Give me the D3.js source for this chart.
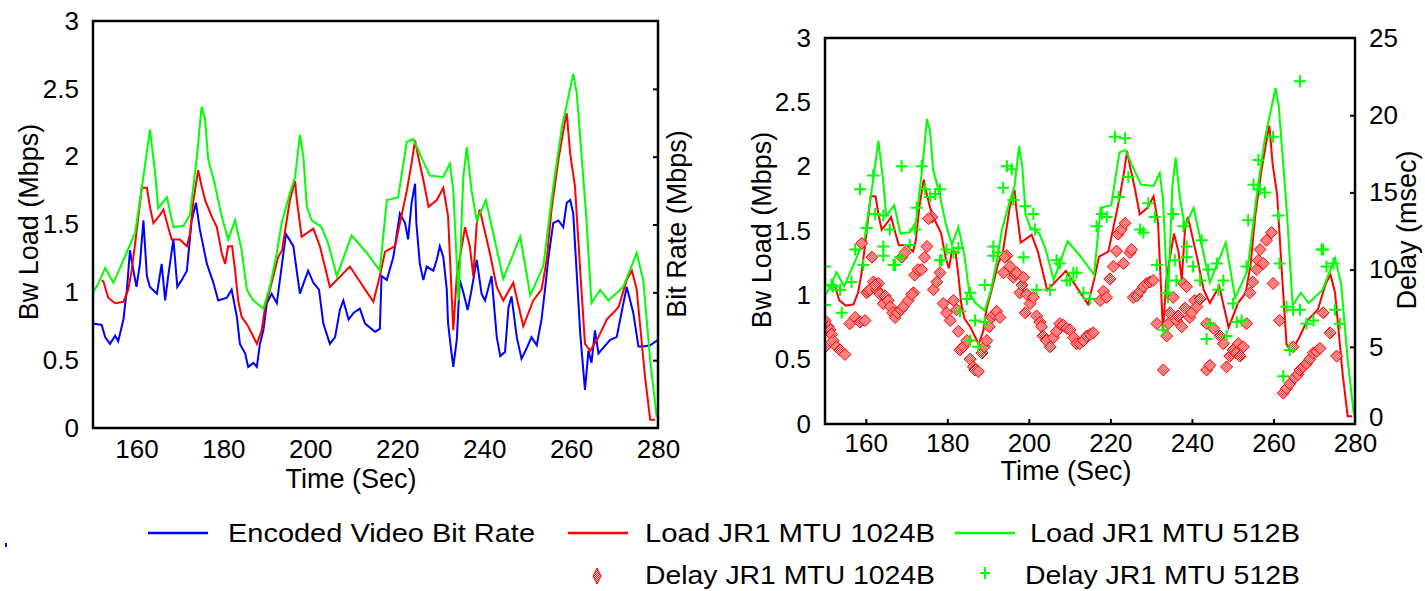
<!DOCTYPE html>
<html><head><meta charset="utf-8">
<script src="https://cdn.jsdelivr.net/npm/d3@7"></script>
<style>
html,body{margin:0;padding:0;background:#fff;}
svg{display:block;font-family:"Liberation Sans",Arial,sans-serif;}
</style></head>
<body><svg id="c" width="1425" height="591"></svg>
<script>
// ---------- DATA ----------
const xDomain = [150, 280];
const xTicks = [160, 180, 200, 220, 240, 260, 280];
const loadTicks = [0, 0.5, 1, 1.5, 2, 2.5, 3];
const delayTicks = [0, 5, 10, 15, 20, 25];

// Encoded video bit rate (Mbps): [time s, value]
const videoBitRate = [[150,0.77],[152,0.76],[152.8,0.67],[153.9,0.62],[155.1,0.68],[155.8,0.64],[157,0.80],[157.8,1.02],[158.5,1.31],[159.3,1.16],[160,1.04],[160.8,1.21],[161.6,1.53],[162.4,1.12],[163.1,1.04],[164.7,0.99],[165.8,1.21],[166.6,0.94],[167.3,1.12],[168.5,1.39],[169.4,1.04],[170.4,1.09],[171.6,1.16],[172.7,1.53],[173.7,1.66],[174.6,1.46],[176.2,1.21],[177.7,1.07],[178.8,0.94],[180.8,0.96],[181.9,1.02],[183.1,0.82],[183.8,0.62],[185,0.55],[185.7,0.45],[186.9,0.48],[187.7,0.45],[188.4,0.62],[189.2,0.72],[190,0.92],[191.1,0.99],[192.3,0.92],[193,1.09],[194.4,1.43],[196.1,1.34],[197.6,0.99],[199.5,1.16],[200.7,1.07],[202,1.02],[203,0.77],[204.5,0.62],[205.7,0.67],[206.8,0.87],[207.6,0.94],[208.8,0.80],[210,0.85],[211.4,0.88],[212.6,0.77],[214.9,0.71],[216,0.73],[216.4,1.12],[217.6,1.09],[219.1,1.26],[220.6,1.58],[221.8,1.51],[222.5,1.39],[223.3,1.66],[224.1,1.80],[224.4,1.51],[225.2,1.21],[226,1.09],[226.8,1.19],[228.3,1.16],[229.1,1.24],[229.8,1.34],[230.6,1.26],[231.4,1.02],[231.7,0.77],[232.5,0.55],[232.9,0.45],[233.7,0.65],[234.4,1.09],[235.2,1.0],[236.2,0.87],[237,1.0],[238.3,1.24],[239.4,0.99],[240.2,0.94],[241.7,1.12],[242.9,0.67],[243.7,0.53],[244.8,0.56],[245.6,0.89],[246.3,0.97],[247.5,0.67],[248.6,0.51],[249.8,0.59],[250.9,0.67],[252.1,0.61],[253.2,0.80],[254,1.02],[254.8,1.26],[255.9,1.51],[257.1,1.53],[258.2,1.48],[259,1.66],[259.8,1.68],[260.5,1.58],[261.3,1.14],[262.1,0.70],[262.8,0.43],[263.2,0.28],[264,0.57],[264.7,0.48],[265.5,0.72],[266.3,0.55],[269,0.65],[270.5,0.67],[271.6,0.85],[272.8,1.04],[273.6,0.94],[274.3,0.85],[275.5,0.60],[276.6,0.60],[278.2,0.61],[280,0.65]];

// Load JR1 MTU 1024B (Mbps)
const load1024 = [[152,1.09],[152.4,1.08],[153.5,0.96],[155.1,0.92],[157,0.93],[158.1,1.02],[158.9,1.16],[159.7,1.36],[160.7,1.63],[161.2,1.77],[162.4,1.77],[163.1,1.63],[163.9,1.51],[165.4,1.57],[166.2,1.61],[167.3,1.48],[168.1,1.39],[170,1.39],[171.6,1.34],[172.3,1.43],[173.1,1.68],[174.2,1.90],[175,1.78],[175.8,1.68],[177.3,1.56],[178.5,1.48],[179.6,1.29],[180.4,1.21],[181.1,1.34],[182,1.34],[182.7,1.16],[183.4,0.94],[184.2,0.82],[185.7,0.75],[187.7,0.62],[188.8,0.72],[189.6,0.89],[190.7,1.02],[192.6,1.26],[193.5,1.31],[195.3,1.68],[196.5,1.82],[196.9,1.68],[198,1.41],[200.7,1.47],[202.2,1.34],[204.5,1.04],[209.1,1.19],[214.5,0.93],[216,1.12],[217.2,1.30],[219.5,1.34],[222.2,1.75],[223.3,1.95],[224.1,2.12],[224.9,1.99],[226,1.83],[227.2,1.63],[229.1,1.68],[230.6,1.77],[231.7,1.56],[232.9,0.72],[233.7,1.12],[235.6,1.48],[236.7,1.34],[237.5,1.12],[238.3,1.51],[239,1.61],[241.3,1.29],[242.9,1.04],[244.4,0.94],[246.7,1.07],[249,0.75],[251.3,0.94],[253.2,1.02],[254.4,1.24],[255.5,1.61],[257.1,1.98],[258.6,2.26],[259,2.32],[259.8,2.02],[260.9,1.78],[262.1,1.16],[263.2,0.62],[264.4,0.57],[266.3,0.67],[268.2,0.80],[270.9,0.89],[272.8,1.09],[274,1.16],[275.1,1.02],[275.9,0.75],[277,0.38],[278.2,0.06],[279.3,0.06]];

// Load JR1 MTU 512B (Mbps)
const load512 = [[150,1.0],[151,1.05],[152.8,1.18],[154.7,1.07],[157.7,1.29],[159.7,1.44],[161.6,1.85],[163.1,2.20],[164.3,1.88],[165,1.62],[167,1.70],[168.5,1.48],[170.8,1.49],[172.3,1.57],[173.9,2.0],[175,2.37],[175.8,2.27],[176.5,1.98],[178,1.80],[179.6,1.56],[181.1,1.39],[182.7,1.53],[184.2,1.31],[185.4,1.02],[186.9,0.94],[189.2,0.88],[190.7,1.04],[192.3,1.29],[193.4,1.51],[195.3,1.73],[196.5,1.85],[197.6,2.16],[198.4,2.0],[199.2,1.63],[200.3,1.53],[202.6,1.48],[204.1,1.36],[206.1,1.12],[209.5,1.42],[213,1.29],[216,1.16],[217.6,1.68],[220.2,1.70],[222.2,2.11],[223.7,2.13],[225.2,2.02],[227.5,1.86],[230.6,1.85],[232.1,1.95],[232.9,1.75],[234.1,0.94],[235.2,1.85],[236,2.07],[237.1,1.75],[238.3,1.53],[240.4,1.68],[244.4,1.10],[248.3,1.41],[250.6,0.98],[253.6,1.19],[255.9,1.78],[257.9,2.22],[260.5,2.61],[261.3,2.47],[263.4,1.6],[264.7,0.92],[266.7,1.02],[268.6,0.94],[272,1.04],[275.1,1.29],[276.6,1.09],[278.2,0.5],[279.7,0.08]];

// Delay JR1 MTU 1024B (msec)
const delay1024 = [[150,6.7],[150.8,6.3],[151.2,6.1],[151.6,5.8],[152,5.4],[150,5.0],[152.8,5.0],[153.7,4.8],[154.9,4.5],[156.1,6.5],[157.4,6.9],[158.6,6.6],[159.8,6.7],[159,11.7],[161.5,10.8],[160.2,8.5],[160.6,8.6],[161,8.7],[161.9,9.2],[162.7,8.7],[163.1,9.1],[162.3,9.0],[163.5,8.4],[164.3,7.8],[164.7,8.3],[165.5,8.0],[166,7.6],[166.6,7.2],[167.2,6.9],[167.8,7.2],[168.6,7.4],[168.8,10.8],[169.2,7.6],[169.6,11.1],[170.4,8.0],[171.7,8.5],[171.3,8.4],[172,9.65],[172.8,10.0],[173.7,10],[174.4,10.8],[175,11.5],[176.2,13.4],[175.4,13.3],[176.6,8.7],[177.4,9.2],[178.2,9.8],[179,7.8],[179.8,7.2],[180.7,6.7],[181.5,8.0],[182.3,7.4],[182.7,6.0],[183.1,4.8],[183.9,5.0],[184.8,5.4],[185.6,4.2],[186.4,3.7],[186.8,3.5],[187.6,3.4],[188.5,4.6],[189.1,5.0],[189.7,5.4],[190.3,6.3],[190.9,6.9],[191.5,7.1],[192.1,7.3],[192.9,6.9],[193.8,9.8],[194.6,10.9],[194.1,10.8],[195.4,10.2],[196.2,9.5],[196.6,9.7],[197,9.8],[197.8,8.5],[198.3,9.0],[198.7,9.5],[199.1,7.2],[199.5,8.4],[200.3,7.8],[201.1,8.2],[201.9,7.0],[202.7,6.6],[203.1,6.3],[203.5,5.7],[204.3,5.4],[205.2,5.0],[206,5.6],[206.8,6.0],[207.6,6.5],[208.4,6.4],[209.3,6.2],[210.1,6.1],[211,5.6],[211.7,5.2],[212.5,5.2],[213.4,5.4],[214.2,5.7],[215,5.8],[215.8,5.9],[217.5,8.0],[218.3,8.6],[219.1,8.2],[219.9,9.4],[220.7,10.2],[221.5,11.2],[221.9,12.3],[222.7,12.6],[223.6,13.0],[223.2,10.4],[224.8,11.1],[225.2,11.3],[225.6,8.2],[226.5,8.3],[227.3,8.6],[228.1,8.9],[228.9,9.1],[229.7,9.2],[230.5,9.3],[231.4,6.5],[233,3.5],[233.8,5.7],[234.2,6.5],[234.6,7.2],[235.4,8.2],[236.2,6.7],[236.6,7.0],[237.5,6.3],[237.9,9.1],[238.3,7.5],[238.7,8.9],[239.5,6.9],[239.9,7.2],[240.7,8.0],[241.2,7.6],[242,8.1],[243.6,3.5],[244.4,3.8],[243.6,6.5],[245.3,6.2],[246.9,5.7],[247.7,5.2],[248.5,3.7],[249.3,4.4],[250.1,4.8],[250.9,4.6],[251.4,5.2],[251.8,4.4],[252.6,5.0],[253.4,6.5],[254.2,8.5],[254.9,9.2],[255.9,10.0],[256.3,10.6],[256.7,11.3],[257.5,10.4],[258.3,11.9],[259.5,12.4],[259.9,9.1],[261.5,6.7],[262.4,2.0],[263.2,2.3],[264,2.6],[264.8,5.0],[265.2,3.0],[266,3.2],[266.5,3.5],[267.3,3.7],[268.1,3.9],[268.9,4.2],[269.8,4.6],[270.6,4.7],[271.4,4.9],[272.2,7.2],[273.9,5.9],[275.5,4.4]];

// Delay JR1 MTU 512B (msec)
const delay512 = [[150,10.2],[150,7.7],[151.6,9.0],[152,8.9],[153.7,8.7],[154.1,7.2],[156.5,9.2],[157.4,11.3],[158.6,15.2],[159.4,10.3],[160.2,12.7],[161.8,16.1],[162.3,13.6],[164.3,11.5],[164.3,13.5],[164.3,10.9],[165.9,12.6],[166.8,10.3],[167.2,10.3],[168.8,16.7],[168.4,10.8],[170.8,11.6],[172.1,12.6],[172.5,14.0],[173.7,16.7],[174.5,15.2],[175.8,14.7],[177,14.9],[178.2,15.2],[178.2,10.6],[178.6,10.6],[179.8,11.3],[181.5,11.1],[182.7,11.4],[183.1,7.3],[184.8,8.1],[185.6,8.5],[185.6,5.4],[186.8,6.7],[187.6,5.0],[189.2,9.0],[189.2,6.6],[191.3,11.5],[191.3,10.9],[192.5,11.1],[193.7,15.3],[194.6,16.7],[195.8,16.5],[196.2,14.5],[198.7,10.8],[199.1,14.1],[201.1,13.6],[201.5,12.6],[201.9,8.7],[205.2,8.7],[206.8,10.6],[207.6,10.4],[209.3,9.3],[210.1,9.3],[210.9,9.8],[211.7,9.8],[213.4,8.5],[215,8.1],[216.6,12.8],[217.9,13.6],[219.1,13.4],[221.1,18.6],[222,14.7],[223.6,18.5],[224.4,16.0],[227.3,12.6],[228.1,12.4],[229.3,14.3],[230.9,13.4],[231.4,10.3],[233,6.1],[233.8,8.5],[235.4,13.6],[235.8,10.6],[236.2,9.3],[237.9,12.8],[238.7,11.5],[238.7,10.8],[240.3,10.2],[242,9.3],[242.4,11.9],[243.6,5.5],[244,10.0],[244.4,6.5],[246.1,10.4],[246.5,8.7],[247.7,9.3],[248.5,5.7],[250.1,7.8],[251,6.6],[252.2,6.7],[253.4,10.2],[253.8,13.2],[255.1,15.5],[256.3,17.1],[256.7,15.2],[257.9,15.0],[259.9,18.6],[261.2,13.5],[261.5,10.4],[262.4,3.1],[263.2,7.6],[264,4.8],[264.8,7.4],[266.5,7.4],[266.5,22.2],[268.1,6.5],[269.8,6.7],[271.8,11.3],[272.2,11.3],[273,10.2],[274.7,10.4],[275.1,7.4],[276.3,6.5]];

const legendRow1 = ["Encoded Video Bit Rate", "Load JR1 MTU 1024B", "Load JR1 MTU 512B"];
const legendRow2 = ["Delay JR1 MTU 1024B", "Delay JR1 MTU 512B"];

// ---------- DRAWING ----------
const BLUE = "#0000ff", RED = "#ff0000", GREEN = "#00ff00";
const FONT = "Liberation Sans, Arial, sans-serif";
const svg = d3.select("#c");
const defs = svg.append("defs");
const pat = defs.append("pattern").attr("id", "hatch").attr("patternUnits", "userSpaceOnUse")
  .attr("width", 2).attr("height", 2);
pat.append("rect").attr("width", 2).attr("height", 2).attr("fill", "#fff");
pat.append("rect").attr("x", 0).attr("y", 0).attr("width", 1).attr("height", 1).attr("fill", RED);
pat.append("rect").attr("x", 1).attr("y", 1).attr("width", 1).attr("height", 1).attr("fill", RED);

const fmt = d => String(d);

function panel(opt) {
  const x = d3.scaleLinear(xDomain, [opt.x0, opt.x1]);
  const y = d3.scaleLinear([0, 3], [opt.y1, opt.y0]);
  const g = svg.append("g");
  const clipId = "clip" + opt.id;
  defs.append("clipPath").attr("id", clipId).append("rect")
    .attr("x", opt.x0).attr("y", opt.y0).attr("width", opt.x1 - opt.x0).attr("height", opt.y1 - opt.y0);

  const line = d3.line().x(d => x(d[0])).y(d => y(d[1]));
  const lg = g.append("g").attr("clip-path", `url(#${clipId})`);
  opt.lines.forEach(s => {
    lg.append("path").datum(s.data).attr("d", line)
      .attr("fill", "none").attr("stroke", s.color).attr("stroke-width", 2)
      .attr("stroke-linejoin", "miter");
  });

  let yD = null;
  if (opt.delay) {
    yD = d3.scaleLinear([0, 25], [opt.y1, opt.y0]);
    lg.append("g").selectAll("path").data(delay1024).join("path")
      .attr("transform", d => `translate(${x(d[0])},${yD(d[1])})`)
      .attr("d", "M0,-6L6,0L0,6L-6,0Z")
      .attr("fill", "url(#hatch)").attr("stroke", RED).attr("stroke-width", 1);
    lg.append("g").selectAll("path").data(delay512).join("path")
      .attr("transform", d => `translate(${x(d[0])},${yD(d[1])})`)
      .attr("d", "M-6,0H6M0,-6V6")
      .attr("stroke", GREEN).attr("stroke-width", 2).attr("fill", "none");
  }

  // frame
  g.append("rect").attr("x", opt.x0).attr("y", opt.y0)
    .attr("width", opt.x1 - opt.x0).attr("height", opt.y1 - opt.y0)
    .attr("fill", "none").attr("stroke", "#000").attr("stroke-width", 2.5);

  // left tick labels
  const ax = g.append("g").attr("transform", `translate(${opt.x0},0)`)
    .call(d3.axisLeft(y).tickValues(loadTicks).tickSize(0).tickPadding(14).tickFormat(fmt));
  ax.select(".domain").remove();
  ax.selectAll("text").attr("font-size", 26).attr("font-family", FONT).attr("fill", "#000");

  // bottom tick labels
  const bx = g.append("g").attr("transform", `translate(0,${opt.y1})`)
    .call(d3.axisBottom(x).tickValues(xTicks).tickSize(0).tickPadding(opt.xPad).tickFormat(fmt));
  bx.select(".domain").remove();
  bx.selectAll("text").attr("font-size", 26).attr("font-family", FONT).attr("fill", "#000");

  if (opt.xTickIn) {
    const bt = g.append("g").attr("transform", `translate(0,${opt.y1})`)
      .call(d3.axisBottom(x).tickValues(xTicks.slice(0, -1)).tickSizeInner(-5).tickSizeOuter(0).tickFormat(""));
    bt.select(".domain").remove();
    bt.selectAll("line").attr("stroke", "#000").attr("stroke-width", 2);
  }

  // right axis
  if (opt.delay) {
    const rt = g.append("g").attr("transform", `translate(${opt.x1},0)`)
      .call(d3.axisRight(yD).tickValues(delayTicks).tickSizeInner(-5).tickSizeOuter(0).tickPadding(14).tickFormat(fmt));
    rt.select(".domain").remove();
    rt.selectAll("line").attr("stroke", "#000").attr("stroke-width", 2)
      .attr("opacity", d => (d === 0 || d === 25) ? 0 : 1);
    rt.selectAll("text").attr("font-size", 26).attr("font-family", FONT).attr("fill", "#000")
      .attr("dy", d => d === 0 ? "0.05em" : "0.32em");
  } else {
    const rt = g.append("g").attr("transform", `translate(${opt.x1},0)`)
      .call(d3.axisRight(y).tickValues([0.5, 1, 1.5, 2, 2.5]).tickSizeInner(-5).tickSizeOuter(0).tickFormat(""));
    rt.select(".domain").remove();
    rt.selectAll("line").attr("stroke", "#000").attr("stroke-width", 2);
  }

  // titles
  g.append("text").attr("x", opt.xTitleX).attr("y", opt.xTitleY).attr("text-anchor", "middle")
    .attr("font-size", 27).text("Time (Sec)");
  g.append("text").attr("transform", `translate(${opt.yTitleX},${opt.yTitleY}) rotate(-90)`)
    .attr("text-anchor", "middle").attr("dominant-baseline", "central")
    .attr("font-size", 27).text("Bw Load (Mbps)");
  g.append("text").attr("transform", `translate(${opt.y2TitleX},${opt.y2TitleY}) rotate(-90)`)
    .attr("text-anchor", "middle").attr("dominant-baseline", "central")
    .attr("font-size", 27).text(opt.y2Title);
}

panel({
  id: "L", x0: 93, x1: 658, y0: 21, y1: 428, xPad: 12, xTickIn: false,
  lines: [{data: videoBitRate, color: BLUE}, {data: load1024, color: RED}, {data: load512, color: GREEN}],
  delay: false,
  xTitleX: 351, xTitleY: 488, yTitleX: 29, yTitleY: 222,
  y2TitleX: 677, y2TitleY: 224, y2Title: "Bit Rate (Mbps)"
});

panel({
  id: "R", x0: 825, x1: 1355, y0: 38, y1: 424, xPad: 10, xTickIn: true,
  lines: [{data: load1024, color: RED}, {data: load512, color: GREEN}],
  delay: true,
  xTitleX: 1066, xTitleY: 480, yTitleX: 762, yTitleY: 230,
  y2TitleX: 1407, y2TitleY: 230, y2Title: "Delay (msec)"
});

// ---------- LEGEND ----------
const leg = svg.append("g").attr("font-size", 26);
const row1 = [
  {color: BLUE, lx: 148, tx: 228, tw: 307},
  {color: RED, lx: 568, tx: 645, tw: 290},
  {color: GREEN, lx: 955, tx: 1030, tw: 270}
];
row1.forEach((r, i) => {
  leg.append("line").attr("x1", r.lx).attr("x2", r.lx + 60).attr("y1", 533).attr("y2", 533)
    .attr("stroke", r.color).attr("stroke-width", 2.5);
  leg.append("text").attr("x", r.tx).attr("y", 533).attr("dominant-baseline", "central")
    .attr("textLength", r.tw).attr("lengthAdjust", "spacingAndGlyphs").text(legendRow1[i]);
});
leg.append("path").attr("transform", "translate(597,576)").attr("d", "M0,-8L4,0L0,8L-4,0Z")
  .attr("fill", "url(#hatch)").attr("stroke", RED).attr("stroke-width", 1);
leg.append("text").attr("x", 645).attr("y", 575).attr("dominant-baseline", "central")
  .attr("textLength", 290).attr("lengthAdjust", "spacingAndGlyphs").text(legendRow2[0]);
leg.append("path").attr("transform", "translate(985,573)").attr("d", "M-5,0H5M0,-6V6")
  .attr("stroke", GREEN).attr("stroke-width", 2);
leg.append("text").attr("x", 1025).attr("y", 575).attr("dominant-baseline", "central")
  .attr("textLength", 275).attr("lengthAdjust", "spacingAndGlyphs").text(legendRow2[1]);
// small stray mark at far left
svg.append("rect").attr("x", 5).attr("y", 543).attr("width", 2).attr("height", 4).attr("fill", BLUE);
</script></body></html>
